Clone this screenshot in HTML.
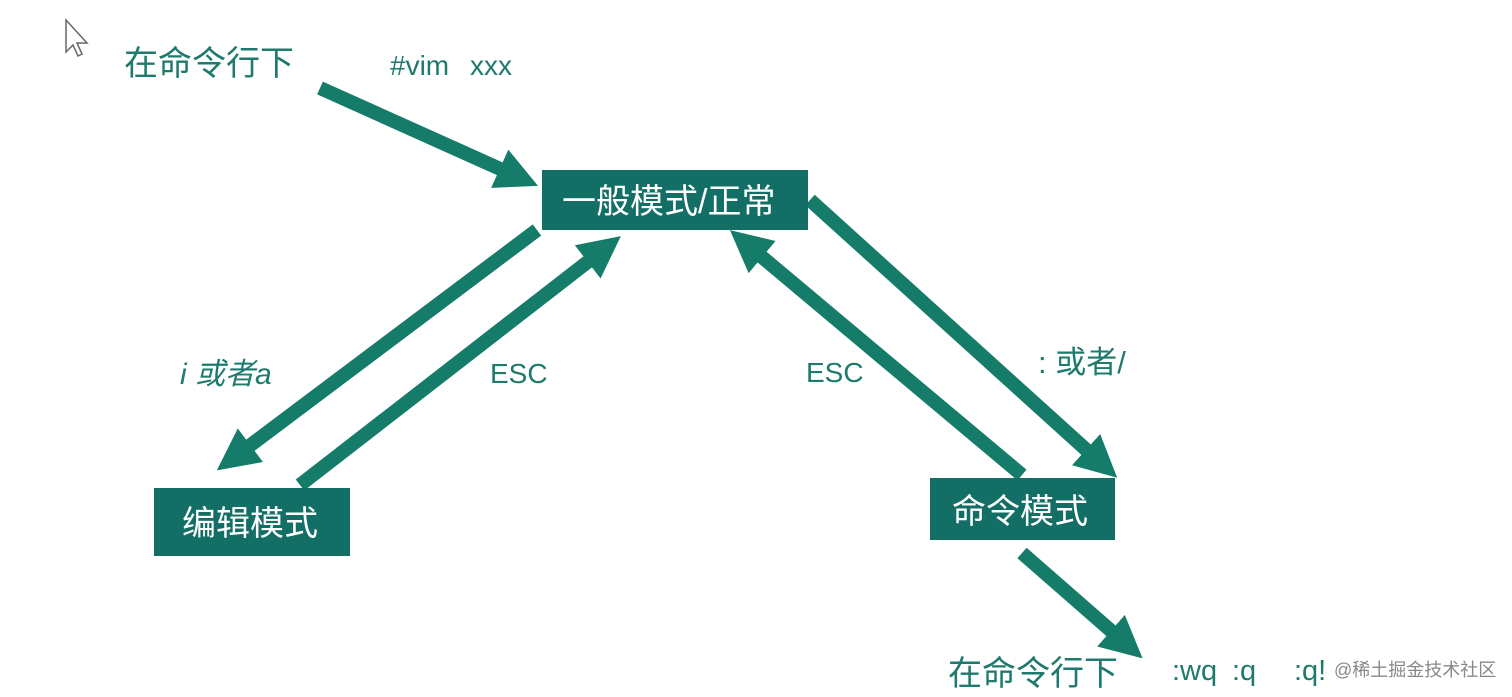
<!DOCTYPE html>
<html><head><meta charset="utf-8"><style>
body{margin:0;background:#fff;}
svg{display:block}
text{font-family:"Liberation Sans","Noto Sans CJK SC",sans-serif;}
</style></head><body>
<svg width="1512" height="697" viewBox="0 0 1512 697" xmlns="http://www.w3.org/2000/svg">
<defs>
<marker id="h" markerUnits="userSpaceOnUse" markerWidth="46" markerHeight="46" refX="8" refY="21" orient="auto">
<path d="M0,0 L42,21 L0,42 z" fill="#167c6a"/>
</marker>
</defs>
<g stroke="#167c6a" stroke-width="14" marker-end="url(#h)">
<line x1="320" y1="88" x2="507" y2="172"/>
<line x1="537" y1="230" x2="244" y2="450"/>
<line x1="300" y1="485" x2="594" y2="257"/>
<line x1="1022" y1="475" x2="756" y2="252"/>
<line x1="810" y1="200" x2="1092" y2="455"/>
<line x1="1022" y1="553" x2="1117" y2="636"/>
</g>
<path d="M66,20 L66,52 L73,45 L78,56 L82,54 L77,43 L87,43 Z" fill="#fff" stroke="#666" stroke-width="1.5"/>
<rect x="542" y="170" width="266" height="60" fill="#136f66"/>
<rect x="154" y="488" width="196" height="68" fill="#136f66"/>
<rect x="930" y="478" width="185" height="62" fill="#136f66"/>
<g fill="#fff" font-size="34">
<text x="562" y="213">一般模式/正常</text>
<text x="182" y="535">编辑模式</text>
<text x="952" y="523">命令模式</text>
</g>
<g fill="#1e7a6c" font-size="34">
<text x="124" y="75">在命令行下</text>
<text x="390" y="75" font-size="28">#vim</text>
<text x="470" y="75" font-size="28">xxx</text>
<text x="180" y="384" font-style="italic" font-size="30">i 或者a</text>
<text x="490" y="383" font-size="28">ESC</text>
<text x="806" y="382" font-size="28">ESC</text>
<text x="1038" y="373" font-size="31">: 或者/</text>
<text x="948" y="685">在命令行下</text>
<text x="1172" y="680" font-size="29">:wq</text>
<text x="1232" y="680" font-size="29">:q</text>
<text x="1294" y="680" font-size="29">:q!</text>
</g>
<text x="1334" y="676" font-size="18" fill="#888">@稀土掘金技术社区</text>
</svg>
</body></html>
